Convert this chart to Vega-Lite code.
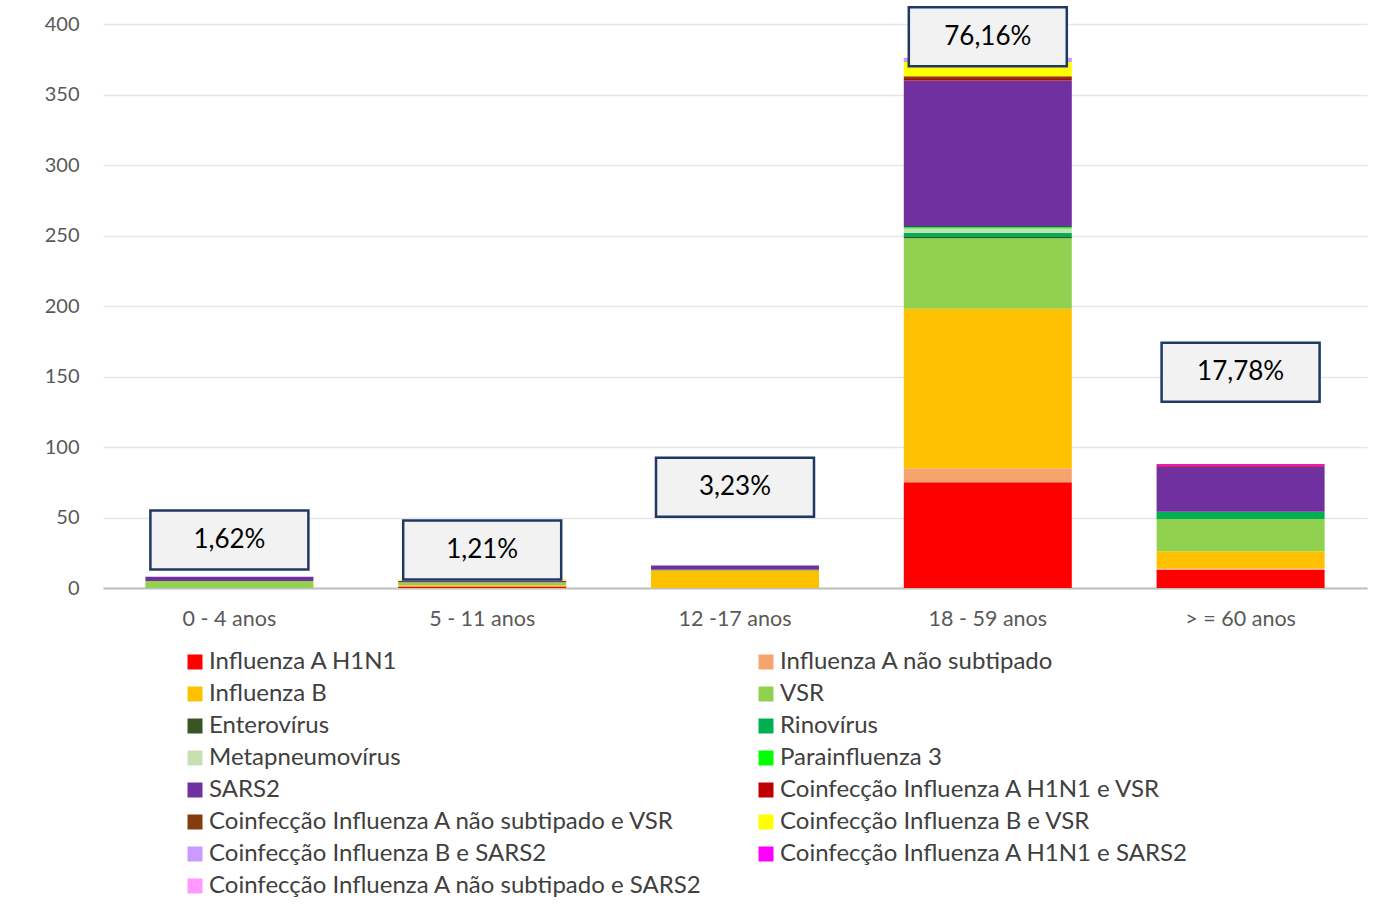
{
  "$schema": "https://vega.github.io/schema/vega-lite/v6.json",
  "width": 1264,
  "height": 564,
  "autosize": {"type": "none"},
  "padding": {"left": 103, "top": 24, "right": 6, "bottom": 321},
  "background": "white",
  "config": {
    "font": "Lato",
    "view": {"stroke": null}
  },
  "datasets": {
    "counts": [
      {"age": "0 - 4  anos", "type": "VSR", "n": 5},
      {"age": "0 - 4  anos", "type": "SARS2", "n": 3},
      {"age": "5 - 11 anos", "type": "Influenza A H1N1", "n": 1},
      {"age": "5 - 11 anos", "type": "Influenza B", "n": 1},
      {"age": "5 - 11 anos", "type": "VSR", "n": 2},
      {"age": "5 - 11 anos", "type": "SARS2", "n": 1},
      {"age": "5 - 11 anos", "type": "Coinfecção Influenza B e  VSR", "n": 1},
      {"age": "12 -17 anos", "type": "Influenza B", "n": 12},
      {"age": "12 -17 anos", "type": "VSR", "n": 1},
      {"age": "12 -17 anos", "type": "SARS2", "n": 3},
      {"age": "18 - 59 anos", "type": "Influenza A H1N1", "n": 75},
      {"age": "18 - 59 anos", "type": "Influenza A não subtipado", "n": 10},
      {"age": "18 - 59 anos", "type": "Influenza B", "n": 113},
      {"age": "18 - 59 anos", "type": "VSR", "n": 50},
      {"age": "18 - 59 anos", "type": "Enterovírus", "n": 1},
      {"age": "18 - 59 anos", "type": "Rinovírus", "n": 3},
      {"age": "18 - 59 anos", "type": "Metapneumovírus", "n": 3},
      {"age": "18 - 59 anos", "type": "Parainfluenza 3", "n": 1},
      {"age": "18 - 59 anos", "type": "SARS2", "n": 104},
      {"age": "18 - 59 anos", "type": "Coinfecção Influenza A H1N1 e  VSR", "n": 1},
      {"age": "18 - 59 anos", "type": "Coinfecção Influenza A não subtipado e  VSR", "n": 2},
      {"age": "18 - 59 anos", "type": "Coinfecção Influenza B e  VSR", "n": 10},
      {"age": "18 - 59 anos", "type": "Coinfecção Influenza B e  SARS2", "n": 3},
      {"age": "> = 60 anos", "type": "Influenza A H1N1", "n": 13},
      {"age": "> = 60 anos", "type": "Influenza A não subtipado", "n": 1},
      {"age": "> = 60 anos", "type": "Influenza B", "n": 12},
      {"age": "> = 60 anos", "type": "VSR", "n": 23},
      {"age": "> = 60 anos", "type": "Rinovírus", "n": 5},
      {"age": "> = 60 anos", "type": "SARS2", "n": 32},
      {"age": "> = 60 anos", "type": "Coinfecção Influenza A H1N1 e  VSR", "n": 1},
      {"age": "> = 60 anos", "type": "Coinfecção Influenza A H1N1 e  SARS2", "n": 1}
    ],
    "labels": [
      {"age": "0 - 4  anos", "pct": "1,62%", "label_at": 34},
      {"age": "5 - 11 anos", "pct": "1,21%", "label_at": 27},
      {"age": "12 -17 anos", "pct": "3,23%", "label_at": 71.5},
      {"age": "18 - 59 anos", "pct": "76,16%", "label_at": 391},
      {"age": "> = 60 anos", "pct": "17,78%", "label_at": 153}
    ]
  },
  "layer": [
    {
      "data": {"name": "counts"},
      "transform": [
        {"calculate": "indexof(['Influenza A H1N1', 'Influenza A não subtipado', 'Influenza B', 'VSR', 'Enterovírus', 'Rinovírus', 'Metapneumovírus', 'Parainfluenza 3', 'SARS2', 'Coinfecção Influenza A H1N1 e  VSR', 'Coinfecção Influenza A não subtipado e  VSR', 'Coinfecção Influenza B e  VSR', 'Coinfecção Influenza B e  SARS2', 'Coinfecção Influenza A H1N1 e  SARS2', 'Coinfecção Influenza A não subtipado e  SARS2'], datum.type)", "as": "stack_rank"}
      ],
      "mark": {"type": "bar", "width": 168},
      "encoding": {
        "x": {
          "field": "age", "type": "nominal",
          "sort": ["0 - 4  anos", "5 - 11 anos", "12 -17 anos", "18 - 59 anos", "> = 60 anos"],
          "scale": {"paddingInner": 0.33, "paddingOuter": 0.165},
          "axis": {
            "title": null, "labelAngle": 0, "ticks": false,
            "domainColor": "#BFBFBF", "domainWidth": 2,
            "labelFontSize": 21.5, "labelColor": "#595959", "labelPadding": 20
          }
        },
        "y": {
          "field": "n", "type": "quantitative", "stack": "zero",
          "scale": {"domain": [0, 400], "nice": false},
          "axis": {
            "title": null, "values": [0, 50, 100, 150, 200, 250, 300, 350, 400],
            "domain": false, "ticks": false, "gridColor": "#E6E6E6", "gridWidth": 1.5,
            "labelFontSize": 20, "labelColor": "#595959", "labelPadding": 24
          }
        },
        "order": {"field": "stack_rank", "type": "quantitative", "sort": "ascending"},
        "color": {
          "field": "type", "type": "nominal",
          "scale": {
            "domain": ["Influenza A H1N1", "Influenza A não subtipado", "Influenza B", "VSR", "Enterovírus", "Rinovírus", "Metapneumovírus", "Parainfluenza 3", "SARS2", "Coinfecção Influenza A H1N1 e  VSR", "Coinfecção Influenza A não subtipado e  VSR", "Coinfecção Influenza B e  VSR", "Coinfecção Influenza B e  SARS2", "Coinfecção Influenza A H1N1 e  SARS2", "Coinfecção Influenza A não subtipado e  SARS2"],
            "range": ["#FF0000", "#F4A46C", "#FFC000", "#92D050", "#375623", "#00B050", "#C6E0B4", "#00FF00", "#7030A0", "#C00000", "#843C0C", "#FFFF00", "#CC99FF", "#FF00FF", "#FF99FF"]
          },
          "legend": {
            "title": null, "orient": "none", "legendX": 80, "legendY": 626,
            "direction": "horizontal",
            "columns": 2, "columnPadding": 45, "rowPadding": 8,
            "symbolType": "square", "symbolSize": 225, "symbolStrokeWidth": 0,
            "labelFontSize": 24, "labelColor": "#404040", "labelOffset": 2,
            "labelLimit": 700, "gridAlign": "each"
          }
        }
      }
    },
    {
      "data": {"name": "labels"},
      "mark": {
        "type": "point", "filled": true, "fill": "#F2F2F2", "stroke": "#1F3864",
        "strokeWidth": 2.5, "opacity": 1,
        "shape": "M-1,-0.3734H1V0.3734H-1Z", "size": 24964
      },
      "encoding": {
        "x": {"field": "age", "type": "nominal", "sort": ["0 - 4  anos", "5 - 11 anos", "12 -17 anos", "18 - 59 anos", "> = 60 anos"]},
        "y": {"field": "label_at", "type": "quantitative"}
      }
    },
    {
      "data": {"name": "labels"},
      "mark": {"type": "text", "fontSize": 26, "color": "#000000", "baseline": "middle", "align": "center"},
      "encoding": {
        "x": {"field": "age", "type": "nominal", "sort": ["0 - 4  anos", "5 - 11 anos", "12 -17 anos", "18 - 59 anos", "> = 60 anos"]},
        "y": {"field": "label_at", "type": "quantitative"},
        "text": {"field": "pct"}
      }
    }
  ]
}
